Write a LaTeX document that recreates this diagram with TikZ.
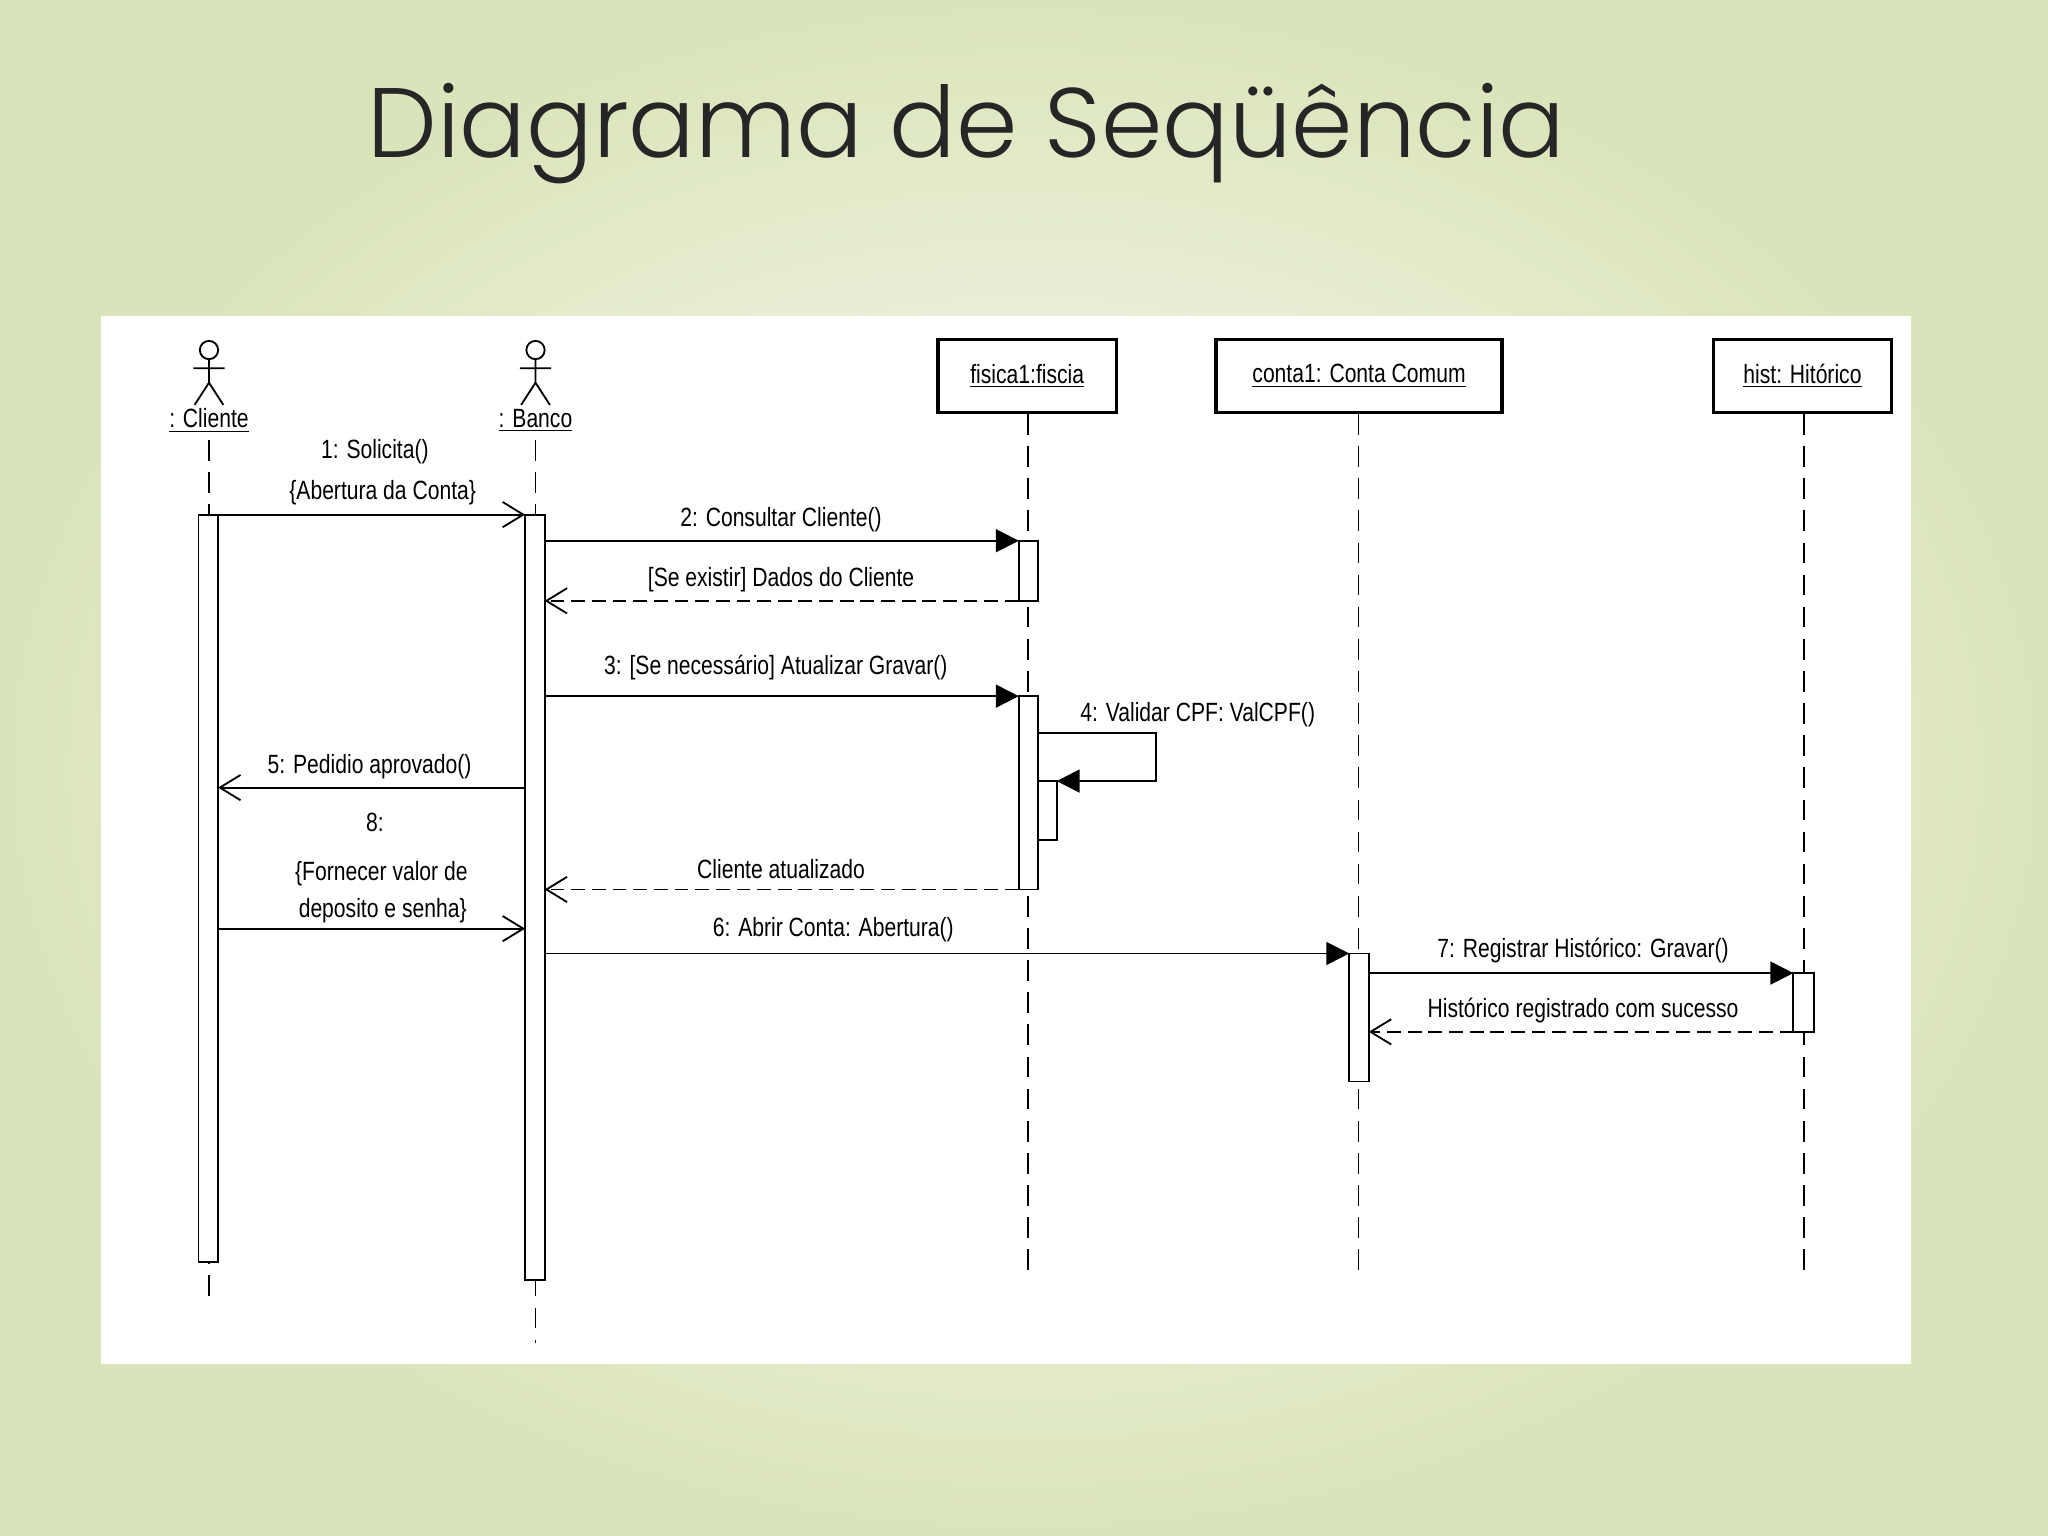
\documentclass[tikz,border=0pt]{standalone}
\usepackage{fontspec}
\setmainfont{Liberation Sans}[FakeStretch=0.8]
\newfontfamily\titlefont{Poppins Light}
\usetikzlibrary{arrows.meta}
\begin{document}
\begin{tikzpicture}[x=0.02cm,y=-0.02cm,
  lbl/.style={font=\fontsize{11.5}{13}\selectfont,inner sep=0pt},
  act/.style={draw,fill=white,line width=0.8pt},
  msg/.style={line width=0.8pt},
  openarr/.style={msg,-{Straight Barb[length=9pt,width=11pt,line width=0.8pt]}},
  fillarr/.style={msg,-{Triangle[length=10pt,width=10pt]}},
  ret/.style={openarr,dash pattern=on 6pt off 3pt},
  life/.style={line width=0.7pt,dash pattern=on 9pt off 5pt},
  obj/.style={draw,line width=1.5pt,fill=white,minimum height=56*0.02cm,inner sep=0pt,font=\fontsize{11.5}{13}\selectfont}]
\useasboundingbox (0,0) rectangle (1568,1176);
\shade[inner color=white,outer color={rgb,255:red,218;green,228;blue,186}] (0,0) rectangle (1568,1176);
\node[font=\titlefont\fontsize{43}{48}\selectfont,text=black!85] (title) at (740,102) {Diagrama de Seqüência};
\fill[white] (77,242) rectangle (1463,1044);
% actors
\foreach \x in {160,410}{
  \draw[line width=0.8pt] (\x,268) circle (7);
  \draw[line width=0.8pt] (\x,275)--(\x,293) (\x-12,282)--(\x+12,282) (\x-11,310)--(\x,293)--(\x+11,310);
}
\node[lbl] (cli) at (160,322) {\underline{: Cliente}};
\node[lbl] (ban) at (410,322) {\underline{: Banco}};
\node[obj,minimum width=137*0.02cm] (fis) at (786.5,288) {\underline{fisica1:fiscia}};
\node[obj,minimum width=219*0.02cm] (con) at (1040.5,288) {\underline{conta1: Conta Comum}};
\node[obj,minimum width=136*0.02cm] (his) at (1380,288) {\underline{hist: Hitórico}};
% lifelines
\draw[life] (160,337)--(160,995);
\draw[life] (410,337)--(410,1028);
\draw[life] (787,317)--(787,972);
\draw[life] (1040,317)--(1040,972);
\draw[life] (1381,317)--(1381,972);
% activations
\draw[act] (152,394) rectangle (167,966);
\draw[act] (402,394) rectangle (417,980);
\draw[act] (780,414) rectangle (795,460);
\draw[act] (780,533) rectangle (795,681);
\draw[act] (795,598) rectangle (809,643);
\draw[act] (1033,730) rectangle (1048,828);
\draw[act] (1373,745) rectangle (1389,790);
\coordinate (c1) at (167,394); \coordinate (b1) at (402,394);
\coordinate (b2) at (417,414); \coordinate (f2) at (780,414);
\coordinate (f2r) at (780,460); \coordinate (b2r) at (417,460);
\coordinate (b3) at (417,533); \coordinate (f3) at (780,533);
\coordinate (s1) at (795,561); \coordinate (s2) at (885,561); \coordinate (s3) at (885,598); \coordinate (s4) at (809,598);
\coordinate (b5) at (402,603); \coordinate (c5) at (167,603);
\coordinate (c8) at (167,711); \coordinate (b8) at (402,711);
\coordinate (f9) at (780,681); \coordinate (b9) at (417,681);
\coordinate (b6) at (417,730); \coordinate (k6) at (1033,730);
\coordinate (k7) at (1048,745); \coordinate (h7) at (1373,745);
\coordinate (h8) at (1373,790); \coordinate (k8) at (1048,790);
\draw[openarr] (c1)--(b1);
\draw[fillarr] (b2)--(f2);
\draw[ret] (f2r)--(b2r);
\draw[fillarr] (b3)--(f3);
\draw[fillarr] (s1)--(s2)--(s3)--(s4);
\draw[openarr] (b5)--(c5);
\draw[openarr] (c8)--(b8);
\draw[ret] (f9)--(b9);
\draw[fillarr] (b6)--(k6);
\draw[fillarr] (k7)--(h7);
\draw[ret] (h8)--(k8);
% labels
\node[lbl] at (287,346) {1: Solicita()};
\node[lbl] at (293,377) {\{Abertura da Conta\}};
\node[lbl] at (598,398) {2: Consultar Cliente()};
\node[lbl] at (598,444) {[Se existir] Dados do Cliente};
\node[lbl] at (594,511) {3: [Se necessário] Atualizar Gravar()};
\node[lbl] at (917,547) {4: Validar CPF: ValCPF()};
\node[lbl] at (283,587) {5: Pedidio aprovado()};
\node[lbl] at (287,630) {8:};
\node[lbl] at (292,669) {\{Fornecer valor de};
\node[lbl] at (293,697) {deposito e senha\}};
\node[lbl] at (598,665) {Cliente atualizado};
\node[lbl] at (638,712) {6: Abrir Conta: Abertura()};
\node[lbl] at (1212,728) {7: Registrar Histórico: Gravar()};
\node[lbl] at (1212,774) {Histórico registrado com sucesso};
\end{tikzpicture}
\end{document}
